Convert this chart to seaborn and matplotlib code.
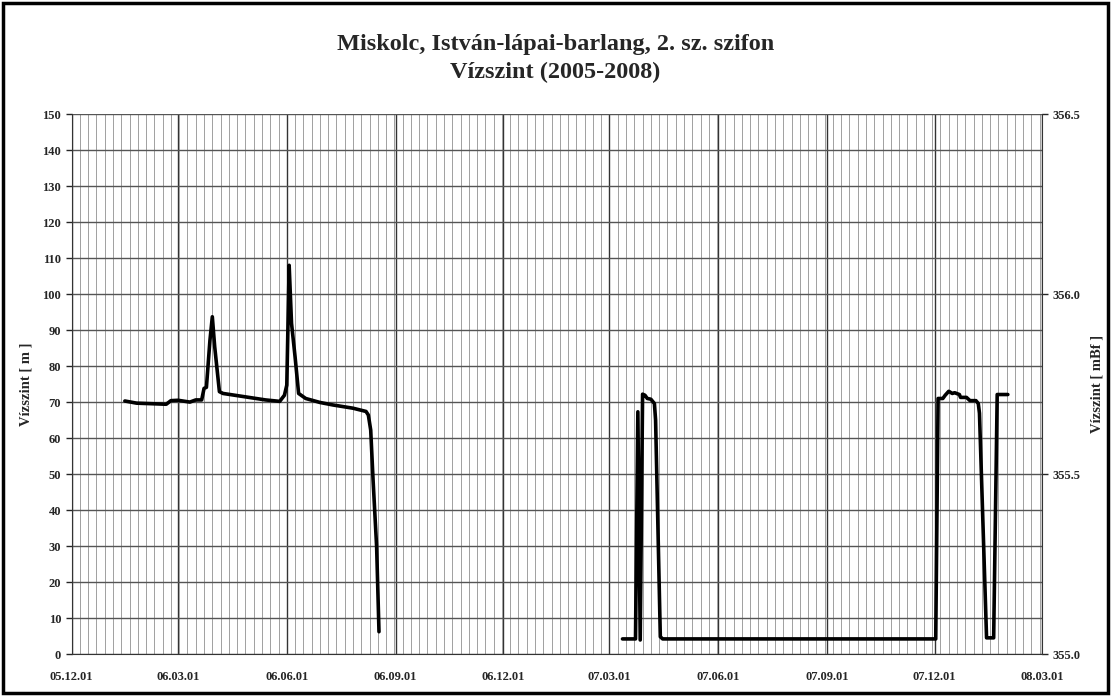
import pandas as pd
import numpy as np
import seaborn as sns
import matplotlib.pyplot as plt
import matplotlib.dates as mdates
from matplotlib.ticker import FixedLocator, MultipleLocator, FormatStrFormatter
from matplotlib.patches import Rectangle

# 1. szakasz (2006)
datum_1 = ["2006-01-15", "2006-01-25", "2006-02-19", "2006-02-23", "2006-03-01",
           "2006-03-11", "2006-03-16", "2006-03-21", "2006-03-23", "2006-03-25",
           "2006-03-28", "2006-03-30", "2006-04-01", "2006-04-05", "2006-04-08",
           "2006-04-30", "2006-05-14", "2006-05-26", "2006-05-30", "2006-06-01",
           "2006-06-03", "2006-06-05", "2006-06-08", "2006-06-11", "2006-06-17",
           "2006-06-29", "2006-07-10", "2006-07-27", "2006-08-07", "2006-08-09",
           "2006-08-11", "2006-08-13", "2006-08-16", "2006-08-18"]
szint_1 = [70.3, 69.7, 69.4, 70.4, 70.5,
           70.0, 70.6, 70.6, 73.8, 74.1,
           87.2, 93.7, 85.4, 72.9, 72.4,
           71.3, 70.6, 70.2, 71.9, 74.7,
           108.0, 91.9, 82.6, 72.4, 71.0,
           69.9, 69.2, 68.3, 67.4, 66.4,
           62.2, 48.3, 29.8, 6.2]

# 2. szakasz (2007-2008)
datum_2 = ["2007-03-12", "2007-03-23", "2007-03-25", "2007-03-27", "2007-03-29",
           "2007-03-31", "2007-04-02", "2007-04-05", "2007-04-08", "2007-04-09",
           "2007-04-13", "2007-04-15", "2007-12-02", "2007-12-04", "2007-12-08",
           "2007-12-10", "2007-12-13", "2007-12-16", "2007-12-18", "2007-12-22",
           "2007-12-23", "2007-12-28", "2007-12-31", "2008-01-05", "2008-01-07",
           "2008-01-08", "2008-01-14", "2008-01-20", "2008-01-23", "2008-02-01"]
szint_2 = [4.2, 4.2, 67.3, 3.9, 72.2,
           71.9, 71.0, 70.8, 69.6, 65.0,
           4.8, 4.2, 4.2, 71.0, 71.0,
           71.9, 73.0, 72.4, 72.6, 72.1,
           71.3, 71.3, 70.4, 70.4, 69.6,
           66.9, 4.5, 4.5, 72.1, 72.1]

df = pd.concat([
    pd.DataFrame({"datum": pd.to_datetime(datum_1), "szint": szint_1, "szakasz": 1}),
    pd.DataFrame({"datum": pd.to_datetime(datum_2), "szint": szint_2, "szakasz": 2}),
])

sns.set_style("white")
plt.rcParams["font.family"] = ["Liberation Serif", "DejaVu Serif"]
plt.rcParams["font.weight"] = "bold"

fig = plt.figure(figsize=(11.11, 6.96), dpi=100)
ax = fig.add_axes([0.0645, 0.0603, 0.8735, 0.7757])

x0, x1 = pd.Timestamp("2005-12-01"), pd.Timestamp("2008-03-01")

# racsvonalak
het = pd.date_range(x0, x1, freq="7D")
ax.xaxis.set_minor_locator(FixedLocator(mdates.date2num(het)))
ax.xaxis.set_major_locator(mdates.MonthLocator(bymonth=[3, 6, 9, 12], bymonthday=1))
ax.xaxis.set_major_formatter(mdates.DateFormatter("%y.%m.%d"))
ax.grid(which="minor", axis="x", color="#a0a0a0", lw=0.7)
ax.grid(which="major", axis="x", color="#333333", lw=1.0)
ax.grid(which="major", axis="y", color="#555555", lw=1.0)
ax.set_axisbelow(True)

sns.lineplot(data=df, x="datum", y="szint", units="szakasz", estimator=None,
             color="black", lw=2.6, ax=ax, legend=False)

ax.set_xlim(x0, x1)
ax.set_ylim(0, 150)
ax.yaxis.set_major_locator(MultipleLocator(10))
ax.set_xlabel("")
ax.set_ylabel("Vízszint [ m ]", fontsize=10.5, fontweight="bold", labelpad=7)
ax.tick_params(axis="both", which="major", labelsize=9, length=4, direction="out", width=1)
ax.tick_params(axis="x", which="minor", length=0)
ax.tick_params(axis="x", pad=8)

for s in ["top", "right"]:
    ax.spines[s].set_visible(False)
ax.spines["left"].set_color("#333333")
ax.spines["bottom"].set_color("#333333")

ax2 = ax.twinx()
ax2.set_ylim(355.0, 356.5)
ax2.yaxis.set_major_locator(MultipleLocator(0.5))
ax2.yaxis.set_major_formatter(FormatStrFormatter("%.1f"))
ax2.tick_params(axis="y", labelsize=9, length=4, direction="out", width=1)
ax2.set_ylabel("Vízszint [ mBf ]", fontsize=10.5, fontweight="bold", labelpad=7)
for s in ["top", "left", "bottom"]:
    ax2.spines[s].set_visible(False)
ax2.spines["right"].set_color("#333333")

fig.text(0.5, 0.916, "Miskolc, István-lápai-barlang, 2. sz. szifon\nVízszint (2005-2008)",
         ha="center", va="center", fontsize=17.5, fontweight="bold", linespacing=1.4)

fig.patches.append(Rectangle((0.003, 0.004), 0.994, 0.992, transform=fig.transFigure,
                             fill=False, edgecolor="black", lw=2.5))

fig.savefig("out.png", dpi=100)
